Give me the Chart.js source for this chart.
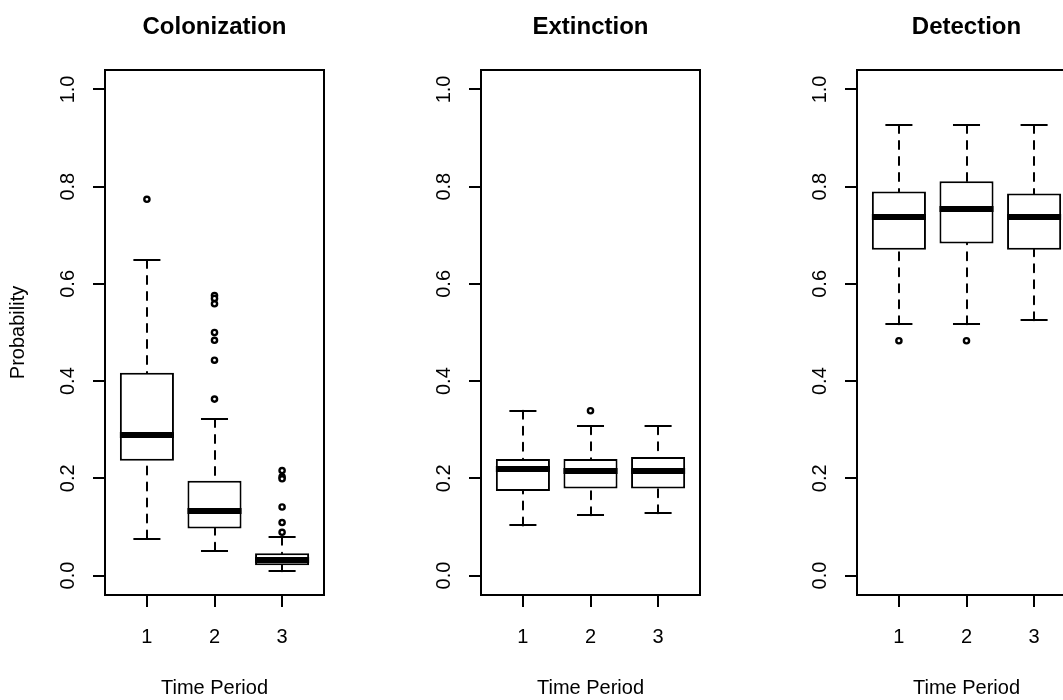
<!DOCTYPE html>
<html><head><meta charset="utf-8">
<script src="https://cdn.jsdelivr.net/npm/chart.js@4.4.1/dist/chart.umd.min.js"></script>
<style>
html,body{margin:0;padding:0;background:#fff;overflow:hidden;}
#wrap{position:relative;width:1063px;height:700px;overflow:hidden;background:#fff;}
canvas{position:absolute;top:0;}
</style></head><body>
<div id="wrap">
<canvas id="c1" width="375" height="700" style="left:0px"></canvas>
<canvas id="c2" width="375" height="700" style="left:376px"></canvas>
<canvas id="c3" width="375" height="700" style="left:752px"></canvas>
</div>
<script>
// ---- data ----
const periods = [1, 2, 3];
const yTicks = [0, 0.2, 0.4, 0.6, 0.8, 1.0];
const panelTitles = ['Colonization', 'Extinction', 'Detection'];
const xAxisTitle = 'Time Period';
const yAxisTitle = 'Probability';

// Colonization
const colWhiskLow = [0.076, 0.051, 0.009];
const colQ1       = [0.236, 0.097, 0.021];
const colMedian   = [0.289, 0.133, 0.031];
const colQ3       = [0.417, 0.195, 0.046];
const colWhiskHigh= [0.649, 0.322, 0.080];
const colOutliers = [[0.774], [0.576, 0.570, 0.559, 0.500, 0.484, 0.443, 0.363], [0.216, 0.203, 0.199, 0.141, 0.109, 0.089]];

// Extinction
const extWhiskLow = [0.103, 0.124, 0.128];
const extQ1       = [0.174, 0.179, 0.179];
const extMedian   = [0.219, 0.215, 0.215];
const extQ3       = [0.240, 0.240, 0.244];
const extWhiskHigh= [0.339, 0.307, 0.307];
const extOutliers = [[], [0.339], []];

// Detection
const detWhiskLow = [0.517, 0.517, 0.525];
const detQ1       = [0.670, 0.683, 0.670];
const detMedian   = [0.737, 0.754, 0.737];
const detQ3       = [0.790, 0.811, 0.786];
const detWhiskHigh= [0.927, 0.927, 0.927];
const detOutliers = [[0.483], [0.483], []];

const panels = [
  {id:'c1', title: panelTitles[0], lo: colWhiskLow, q1: colQ1, med: colMedian, q3: colQ3, hi: colWhiskHigh, out: colOutliers, ylab: true},
  {id:'c2', title: panelTitles[1], lo: extWhiskLow, q1: extQ1, med: extMedian, q3: extQ3, hi: extWhiskHigh, out: extOutliers, ylab: false},
  {id:'c3', title: panelTitles[2], lo: detWhiskLow, q1: detQ1, med: detMedian, q3: detQ3, hi: detWhiskHigh, out: detOutliers, ylab: false}
];

Chart.defaults.font.family = '"Liberation Sans", Arial, Helvetica, sans-serif';
Chart.defaults.color = '#000';

const boxExtras = {
  id: 'boxExtras',
  afterDatasetsDraw(chart) {
    const p = chart.$panel;
    const {ctx} = chart;
    const x = chart.scales.x, y = chart.scales.y;
    ctx.save();
    ctx.strokeStyle = '#000';
    periods.forEach((per, i) => {
      const cx = Math.round(x.getPixelForValue(per));
      const bl = x.getPixelForValue(per - 0.4), br = x.getPixelForValue(per + 0.4);
      const sl = x.getPixelForValue(per - 0.2), sr = x.getPixelForValue(per + 0.2);
      // dashed whiskers
      ctx.lineWidth = 2;
      ctx.lineCap = 'round';
      ctx.setLineDash([8, 8]);
      ctx.beginPath();
      ctx.moveTo(cx, y.getPixelForValue(p.lo[i])); ctx.lineTo(cx, y.getPixelForValue(p.q1[i]));
      ctx.moveTo(cx, y.getPixelForValue(p.hi[i])); ctx.lineTo(cx, y.getPixelForValue(p.q3[i]));
      ctx.stroke();
      // staples
      ctx.setLineDash([]);
      ctx.lineCap = 'butt';
      ctx.beginPath();
      ctx.moveTo(sl, Math.round(y.getPixelForValue(p.lo[i]))); ctx.lineTo(sr, Math.round(y.getPixelForValue(p.lo[i])));
      ctx.moveTo(sl, Math.round(y.getPixelForValue(p.hi[i]))); ctx.lineTo(sr, Math.round(y.getPixelForValue(p.hi[i])));
      ctx.stroke();
      // median
      ctx.lineWidth = 6;
      ctx.beginPath();
      const my = Math.round(y.getPixelForValue(p.med[i]));
      ctx.moveTo(bl, my); ctx.lineTo(br, my);
      ctx.stroke();
    });
    ctx.restore();
  },
  afterDraw(chart) {
    const {ctx, chartArea: a} = chart;
    ctx.save();
    ctx.strokeStyle = '#000';
    ctx.lineWidth = 2;
    ctx.strokeRect(a.left, a.top, a.right - a.left, a.bottom - a.top);
    ctx.restore();
  }
};

panels.forEach(p => {
  const boxes = periods.map((per, i) => ({x: per, y: [p.q1[i], p.q3[i]]}));
  const outs = [];
  periods.forEach((per, i) => p.out[i].forEach(v => outs.push({x: per, y: v})));
  new Chart(document.getElementById(p.id), {
    type: 'bar',
    data: {
      datasets: [
        {type: 'bar', data: boxes, backgroundColor: '#fff', borderColor: '#000', borderWidth: 2,
         borderSkipped: false, categoryPercentage: 1.0, barPercentage: 0.8, order: 2},
        {type: 'scatter', data: outs, pointRadius: 2.6, pointBorderWidth: 2.4,
         pointBackgroundColor: '#fff', pointBorderColor: '#000', order: 1}
      ]
    },
    options: {
      responsive: false,
      animation: false,
      devicePixelRatio: 1,
      layout: {padding: {left: 0, right: 51, top: 0, bottom: 0}},
      plugins: {
        legend: {display: false},
        tooltip: {enabled: false},
        title: {display: true, text: p.title, fullSize: false, color: '#000',
                font: {size: 24, weight: 'bold', lineHeight: 1}, padding: {top: 15, bottom: 31}}
      },
      scales: {
        x: {
          type: 'linear', min: 0.38, max: 3.62, offset: false,
          afterBuildTicks: s => { s.ticks = periods.map(v => ({value: v})); },
          afterFit: s => { s.height = 105; },
          grid: {display: true, offset: false, drawOnChartArea: false, drawTicks: true, tickLength: 12, color: '#000', lineWidth: 2},
          border: {display: true, color: '#000', width: 2},
          ticks: {font: {size: 20}, color: '#000', padding: 18, autoSkip: false, maxRotation: 0, minRotation: 0,
                  callback: v => String(v)},
          title: {display: true, text: xAxisTitle, font: {size: 20}, color: '#000', padding: {top: 0, bottom: 0}}
        },
        y: {
          type: 'linear', min: -0.04, max: 1.04, offset: false,
          afterBuildTicks: s => { s.ticks = yTicks.map(v => ({value: v})); },
          afterFit: s => { s.width = 105; },
          grid: {display: true, drawOnChartArea: false, drawTicks: true, tickLength: 12, color: '#000', lineWidth: 2},
          border: {display: true, color: '#000', width: 2},
          ticks: {font: {size: 20}, color: '#000', padding: 11, autoSkip: false, minRotation: 90, maxRotation: 90,
                  crossAlign: 'center', callback: v => Number(v).toFixed(1)},
          title: {display: p.ylab, text: yAxisTitle, font: {size: 20}, color: '#000', padding: {top: 6, bottom: 0}}
        }
      }
    },
    plugins: [{id: 'attach', beforeInit(c) { c.$panel = p; }}, boxExtras]
  });
});
</script>
</body></html>
